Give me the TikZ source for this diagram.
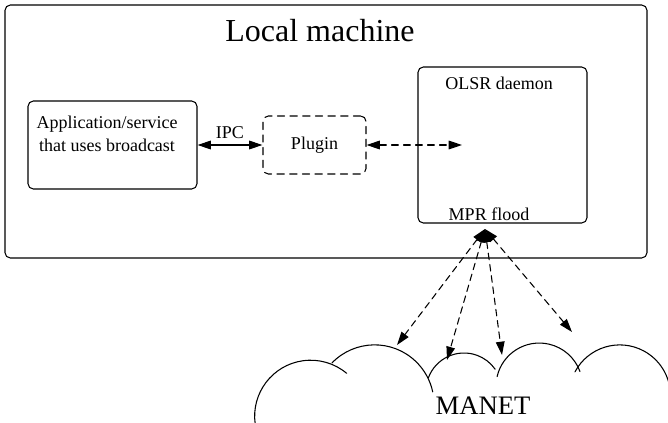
\documentclass[tikz,border=0pt]{standalone}
\usepackage{fontspec}
\setmainfont{Liberation Serif}
\usepackage{tikz}
\usetikzlibrary{arrows.meta}

\begin{document}
\begin{tikzpicture}[line cap=round,line join=round,>={Triangle[length=10pt,width=6.5pt]},x=0.75pt,y=0.75pt,line width=0.8pt]
      \tikzset{box/.style={draw,rounded corners=4pt,inner sep=0pt},
               small/.style={font=\fontsize{13.5}{17}\selectfont},
               flood/.style={<->,dash pattern=on 5pt off 3.5pt}}
      \useasboundingbox (0,0) rectangle (668,-422);
      % local machine
      \node[box,minimum width=481.5pt,minimum height=189.75pt] (local) at (326,-131.5) {};
      \node[font=\fontsize{24}{28}\selectfont] (title) at (320,-31) {Local machine};
      \node[box,minimum width=126.75pt,minimum height=66pt] (app) at (112.5,-145) {};
      \node[small,align=center,anchor=north] (apptext) at (107,-111) {Application/service\\that uses broadcast};
      \node[box,dash pattern=on 5.5pt off 4pt,small,minimum width=77.25pt,minimum height=43.5pt] (plugin) at (314.5,-145) {Plugin};
      \node[box,minimum width=126.75pt,minimum height=117pt] (olsr) at (502.5,-145) {};
      \node[small] (daemon) at (499,-83) {OLSR daemon};
      \node[small,anchor=base] (mpr) at (489,-220.5) {MPR flood};
      \coordinate (olsrin) at (462,-145);
      \draw[<->] (app.east) -- node[small,above=1pt] (ipc) {IPC} (plugin.west);
      \draw[<->,dash pattern=on 5pt off 4pt] (plugin.east) -- (olsrin);
      % flooding into the MANET
      \coordinate (src) at (485,-229);
      \coordinate (t1) at (397,-345);
      \coordinate (t2) at (447,-360);
      \coordinate (t3) at (502,-355);
      \coordinate (t4) at (572,-332);
      \foreach \t in {t1,t2,t3,t4}
      \draw[flood] (src) -- (\t);
      % cloud
      \draw (255.2,-424) arc[start angle=188,end angle=50,radius=56];
      \draw (331.9,-363) arc[start angle=136,end angle=12,radius=59.4];
      \draw (428.3,-378) arc[start angle=160,end angle=35,radius=38];
      \draw (497.1,-376.6) arc[start angle=167,end angle=20,radius=43.3];
      \draw (575,-371.8) arc[start angle=152,end angle=2,radius=50.7];
      \node[font=\fontsize{20}{24}\selectfont] (manet) at (483,-406) {MANET};
\end{tikzpicture}
\end{document}
